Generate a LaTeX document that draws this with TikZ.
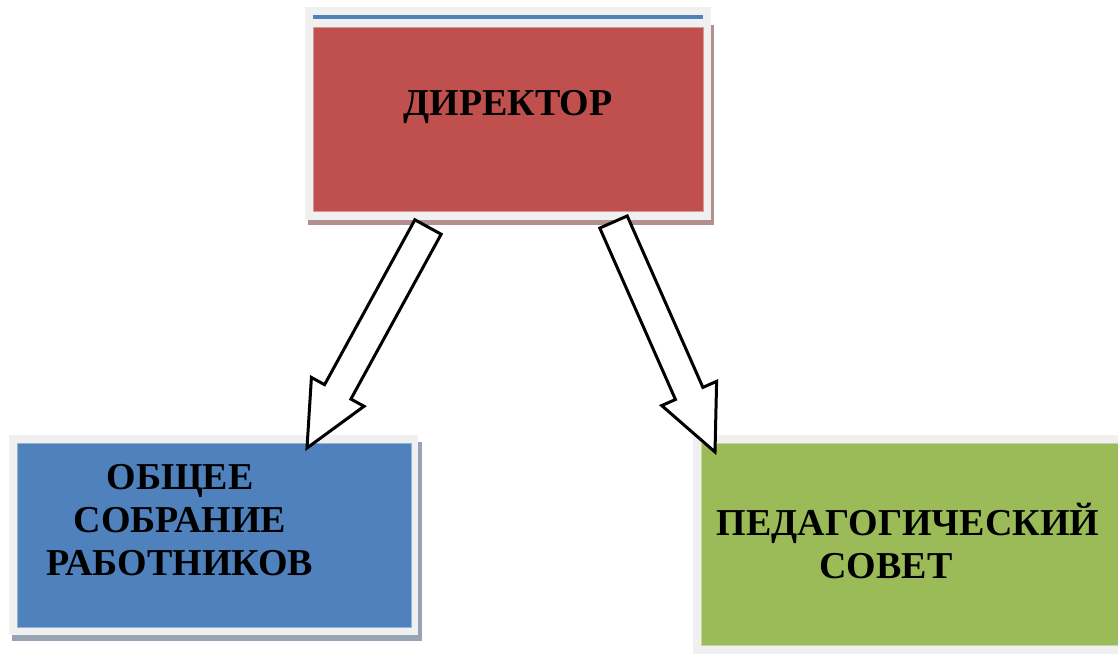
\documentclass[tikz,border=0pt]{standalone}
\usepackage{fontspec}
\setmainfont{Liberation Serif}
\usetikzlibrary{calc, fit}

\definecolor{dirred}{HTML}{C0504D}
\definecolor{dirrededge}{HTML}{D99694}
\definecolor{dirshadow}{HTML}{B38F8F}
\definecolor{sobblue}{HTML}{4F81BD}
\definecolor{sobedge}{HTML}{95B3D7}
\definecolor{sobshadow}{HTML}{96A3B3}
\definecolor{pedgreen}{HTML}{9BBB59}
\definecolor{pededge}{HTML}{C3D69B}
\definecolor{framegray}{HTML}{F0F0F0}

% hollow block arrow from tail coordinate to tip coordinate
\newcommand\blockarrow[2]{%
  \coordinate (hb) at ($(#2)!32pt!(#1)$);
  \draw[blockarrow]
    ($(#1)!7.5pt!90:(#2)$) -- ($(hb)!7.5pt!90:(#2)$) -- ($(hb)!15pt!90:(#2)$)
    -- (#2) -- ($(hb)!15pt!-90:(#2)$) -- ($(hb)!7.5pt!-90:(#2)$)
    -- ($(#1)!7.5pt!-90:(#2)$) -- cycle;
}

\begin{document}
\begin{tikzpicture}[
    x=0.5pt, y=-0.5pt,
    frame/.style={fill=framegray},
    box/.style={inner sep=0pt, line width=0.5pt},
    boxtext/.style={font=\fontsize{19}{21.5}\selectfont\bfseries, align=center, inner sep=0pt},
    blockarrow/.style={draw=black, fill=white, line width=1.5pt, line join=miter}
]

    \clip (0,0) rectangle (1118,653);

    % === Director ===
    \fill[dirshadow] (308,25) rectangle (714,225);
    \fill[frame] (305,7) rectangle (711,220);
    \node[box, fill=dirred, draw=dirrededge, fit={(313,27) (703,211)}] (dir) {};
    \draw[sobblue, line width=2pt] (313,17) -- (703,17);
    \node[boxtext, anchor=base] (dirtxt) at (508,115.5) {ДИРЕКТОР};

    % === General meeting ===
    \fill[sobshadow] (12,442) rectangle (422,641);
    \fill[frame] (9,435) rectangle (418,635);
    \node[box, fill=sobblue, draw=sobedge, fit={(17,443) (411,627)}] (sob) {};
    \node[boxtext] (sobtxt) at (180,520) {ОБЩЕЕ\\СОБРАНИЕ\\РАБОТНИКОВ};

    % === Pedagogical council ===
    \fill[frame] (693,435) rectangle (1130,660);
    \node[box, fill=pedgreen, draw=pededge, fit={(701,443) (1130,645)}] (ped) {};
    \node[boxtext] (pedtxt) at (908,541) {ПЕДАГОГИЧЕСКИЙ\\СОВЕТ\hspace*{22pt}};

    % === Arrows ===
    \coordinate (dirL) at (428,227);
    \coordinate (dirR) at (613.5,222);
    \coordinate (sobTip) at (307,448);
    \coordinate (pedTip) at (715,452);
    \blockarrow{dirL}{sobTip}
    \blockarrow{dirR}{pedTip}

\end{tikzpicture}
\end{document}
